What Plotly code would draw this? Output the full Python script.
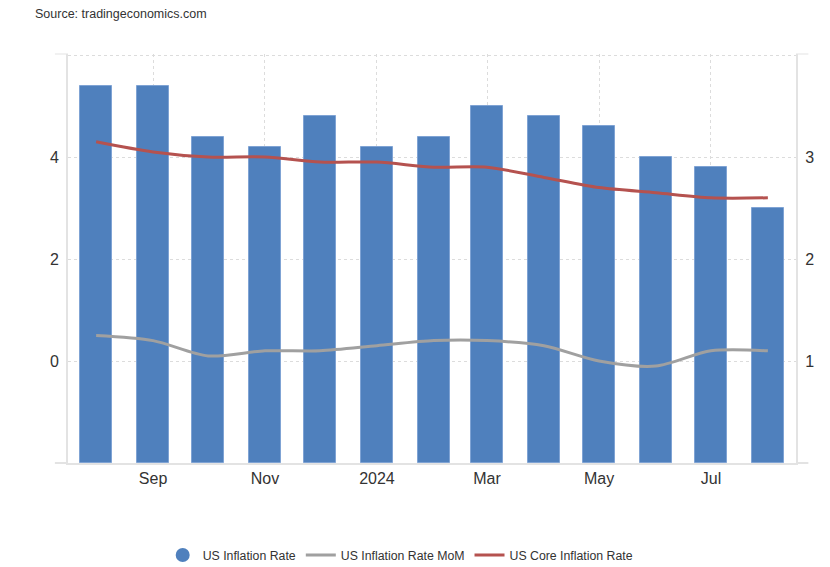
import plotly.graph_objects as go

months = ["2023-08-01", "2023-09-01", "2023-10-01", "2023-11-01", "2023-12-01",
          "2024-01-01", "2024-02-01", "2024-03-01", "2024-04-01", "2024-05-01",
          "2024-06-01", "2024-07-01", "2024-08-01"]
inflation = [3.7, 3.7, 3.2, 3.1, 3.4, 3.1, 3.2, 3.5, 3.4, 3.3, 3.0, 2.9, 2.5]
inflation_mom = [0.5, 0.4, 0.1, 0.2, 0.2, 0.3, 0.4, 0.4, 0.3, 0.0, -0.1, 0.2, 0.2]
core_inflation = [4.3, 4.1, 4.0, 4.0, 3.9, 3.9, 3.8, 3.8, 3.6, 3.4, 3.3, 3.2, 3.2]

x_tickvals = ["2023-09-01", "2023-11-01", "2024-01-01", "2024-03-01", "2024-05-01", "2024-07-01"]
x_ticktext = ["Sep", "Nov", "2024", "Mar", "May", "Jul"]

BLUE = "#4f80bd"
GREY = "#a0a0a0"
RED = "#b5524f"
FONT = "Liberation Sans, Arial, sans-serif"

fig = go.Figure()

fig.add_trace(go.Bar(
    x=months, y=inflation, name="US Inflation Rate",
    marker=dict(color=BLUE, line=dict(color="#7fa3d4", width=1)),
    width=17.3 * 86400000, yaxis="y", showlegend=False,
))
fig.add_trace(go.Scatter(
    x=[None], y=[None], mode="markers", name="US Inflation Rate",
    marker=dict(color=BLUE, size=14, symbol="circle"), yaxis="y2",
))
fig.add_trace(go.Scatter(
    x=months, y=inflation_mom, name="US Inflation Rate MoM", mode="lines",
    line=dict(color=GREY, width=3, shape="spline", smoothing=0.8), yaxis="y2",
))
fig.add_trace(go.Scatter(
    x=months, y=core_inflation, name="US Core Inflation Rate", mode="lines",
    line=dict(color=RED, width=3, shape="spline", smoothing=0.8), yaxis="y2",
))

grid = "#dcdcdc"
axis_line = "#e3e3e3"

fig.update_layout(
    width=830, height=567,
    margin=dict(l=68, r=34, t=54, b=104, autoexpand=False),
    paper_bgcolor="white", plot_bgcolor="white",
    font=dict(family=FONT, color="#333333"),
    bargap=0,
    xaxis=dict(
        type="date", range=["2023-07-16 16:00", "2024-08-16 08:00"],
        tickvals=x_tickvals, ticktext=x_ticktext,
        tickfont=dict(size=16, color="#333333"),
        showgrid=True, gridcolor=grid, griddash="dot", gridwidth=1,
        showline=True, linecolor=axis_line, linewidth=2,
        ticks="", zeroline=False, mirror=False,
    ),
    yaxis=dict(
        side="right", range=[0, 4.01],
        tickvals=[0, 1, 2, 3, 4], ticktext=["", "1", "2", "3", ""],
        tickfont=dict(size=16, color="#333333"),
        showgrid=True, gridcolor=grid, griddash="dot", gridwidth=1,
        showline=True, linecolor=axis_line, linewidth=2,
        zeroline=False, ticks="", ticklabelstandoff=4,
    ),
    yaxis2=dict(
        side="left", overlaying="y", range=[-2, 6.02],
        tickvals=[0, 2, 4], ticktext=["0", "2", "4"],
        tickfont=dict(size=16, color="#333333"),
        showgrid=False, zeroline=False,
        showline=True, linecolor=axis_line, linewidth=2,
        ticks="", ticklabelstandoff=4,
    ),
    legend=dict(
        orientation="h", x=0.457, xanchor="center", y=-0.225, yanchor="middle",
        font=dict(size=12.3, color="#333333"),
        itemwidth=30, traceorder="normal",
    ),
    annotations=[dict(
        text="Source: tradingeconomics.com", xref="paper", yref="paper",
        x=-0.048, y=1.0, xanchor="left", yanchor="middle",
        showarrow=False, font=dict(size=12.5, color="#333333"),
        yshift=40,
    )],
    shapes=[
        dict(type="line", xref="paper", yref="paper", x0=-0.018, x1=0, y0=1, y1=1,
             line=dict(color=axis_line, width=1)),
        dict(type="line", xref="paper", yref="paper", x0=-0.018, x1=0, y0=0, y1=0,
             line=dict(color=axis_line, width=2)),
        dict(type="line", xref="paper", yref="paper", x0=1, x1=1.017, y0=1, y1=1,
             line=dict(color=axis_line, width=1)),
        dict(type="line", xref="paper", yref="paper", x0=1, x1=1.017, y0=0, y1=0,
             line=dict(color=axis_line, width=2)),
    ],
)

fig.write_html("out.html", config={"displayModeBar": False},
               post_script="document.body.style.margin='0';")
